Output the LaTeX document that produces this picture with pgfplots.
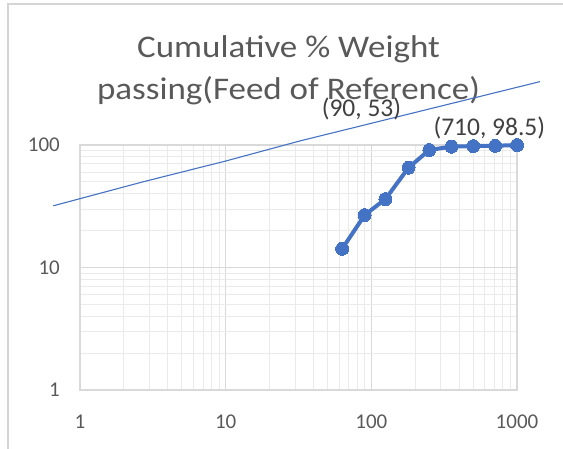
\documentclass[border=0pt]{standalone}
\usepackage{pgfplots}
\pgfplotsset{compat=1.18}
\usepackage{fontspec}
\setmainfont{Carlito}

\definecolor{xlblue}{RGB}{68,114,196}
\definecolor{titlegray}{RGB}{89,89,89}
\definecolor{labelgray}{RGB}{64,64,64}
\definecolor{majgrid}{RGB}{217,217,217}
\definecolor{mingrid}{RGB}{234,234,234}
\definecolor{chartframe}{RGB}{212,212,212}

\begin{document}
\begin{tikzpicture}
% page area
\path[use as bounding box] (0bp,0bp) rectangle (563bp,-449bp);
% chart frame (left and top edges)
\draw[chartframe, line width=1.5bp] (8bp,-449bp) -- (8bp,-4bp) -- (563bp,-4bp);

% title
\node[font=\fontsize{35bp}{35bp}\selectfont, text=titlegray, anchor=base, yscale=0.9]
  at (288.5bp,-57.3bp) {Cumulative \% Weight};
\node[font=\fontsize{35bp}{35bp}\selectfont, text=titlegray, anchor=base, yscale=0.9]
  at (288.5bp,-99bp) {passing(Feed of Reference)};

\begin{axis}[
  at={(80bp,-390bp)}, anchor=south west,
  scale only axis, width=437bp, height=245bp,
  xmode=log, ymode=log,
  xmin=1, xmax=1000, ymin=1, ymax=100,
  xtick={1,10,100,1000}, xticklabels={1,10,100,1000},
  ytick={1,10,100}, yticklabels={1,10,100},
  minor xtick={2,3,4,5,6,7,8,9,20,30,40,50,60,70,80,90,200,300,400,500,600,700,800,900},
  minor ytick={2,3,4,5,6,7,8,9,20,30,40,50,60,70,80,90},
  grid=both,
  major grid style={majgrid, line width=1.3bp},
  minor grid style={mingrid, line width=1bp},
  axis line style={majgrid, line width=1.3bp},
  major tick length=0pt, minor tick length=0pt,
  tick label style={font=\fontsize{21bp}{21bp}\selectfont, text=titlegray, inner sep=0pt},
  xticklabel style={anchor=north, yshift=-25bp},
  yticklabel style={anchor=east, xshift=-20bp},
  /pgf/number format/assume math mode=true,
  clip=false,
]
% power-law trend line
\addplot[xlblue, line width=1.1bp] coordinates {
  (0.656,31.9) (2.7,50) (10,74) (32.4,108) (1436,329)
};
% cumulative % weight passing vs sieve size
\addplot[xlblue, line width=4bp, line join=round,
  mark=*, mark size=6.5bp, mark options={fill=xlblue, draw=xlblue, line width=0pt}]
  coordinates {
  (63,14.2) (90,26.8) (125,36.2) (180,65.3) (250,91)
  (355,97) (500,98) (710,98.5) (1000,100)
};
\node[font=\fontsize{25.5bp}{25.5bp}\selectfont, text=labelgray, anchor=base, xshift=-3.2bp]
  at (axis cs:90,169.3) {(90, 53)};
\node[font=\fontsize{25.5bp}{25.5bp}\selectfont, text=labelgray, anchor=base, xshift=-6bp, yshift=10.8bp]
  at (axis cs:710,98.5) {(710, 98.5)};
\end{axis}
\end{tikzpicture}
\end{document}
